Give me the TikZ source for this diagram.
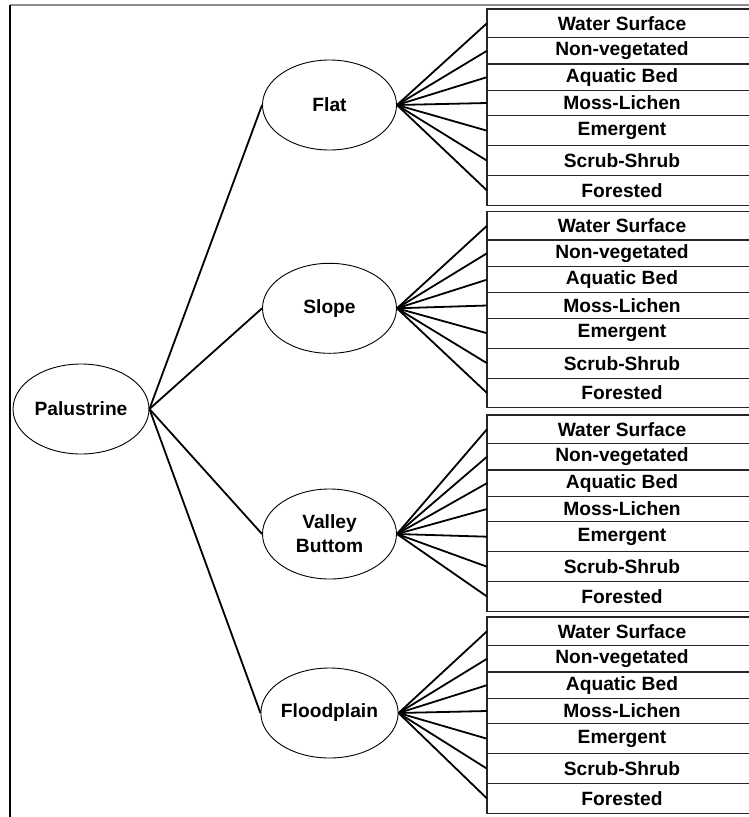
\documentclass[tikz,border=0pt]{standalone}
\usepackage{fontspec}
\setmainfont{Liberation Sans}
\usetikzlibrary{shapes.geometric}

\tikzset{
  lbl/.style={font=\fontsize{19.2}{24}\selectfont\bfseries, align=center},
  oval/.style={ellipse, draw=black, line width=0.9pt, inner sep=0pt,
    minimum width=134pt, minimum height=90pt, lbl},
  cell/.style={rectangle, draw=black!85, line width=1.3pt, anchor=north west,
    minimum width=270pt, inner sep=0pt, outer sep=0pt, lbl},
  fan/.style={line width=1.8pt, black},
  frame/.style={line width=1.2pt},
}

\begin{document}
\begin{tikzpicture}[x=1pt, y=-1pt]
  \useasboundingbox (0,0) rectangle (749,817);

  % outer frame: grey top rule, black left rule
  \draw[frame, black!45] (10,5) -- (760,5);
  \draw[frame, black] (10,5) -- (10,817);

  % root and landform classes
  \node[oval, minimum width=136pt] (pal) at (81,409) {Palustrine};
  \node[oval] (flat)   at (329.5,105)   {Flat};
  \node[oval] (slope)  at (329.5,308.3) {Slope};
  \node[oval] (valley) at (329.5,534)   {Valley\\Buttom};
  \node[oval] (flood)  at (329.5,713)   {Floodplain};

  \foreach \c in {flat, slope, valley, flood}
    \draw[fan] (pal.east) -- (\c.west);

  % vegetation classes for every landform
  \foreach \g/\top/\parent in {1/9/flat, 2/211.5/slope, 3/415/valley, 4/617/flood} {
    \foreach \r/\off/\h/\txt in {
        1/0/28.5/Water Surface,
        2/28.5/26.5/Non-vegetated,
        3/55/26.3/Aquatic Bed,
        4/81.3/25.4/Moss-Lichen,
        5/106.7/30/Emergent,
        6/136.7/30/Scrub-Shrub,
        7/166.7/29.6/Forested} {
      \node[cell, minimum height=\h pt] (g\g r\r) at (487,{\top+\off}) {\txt};
      \draw[fan] (\parent.east) -- (g\g r\r.west);
    }
  }
\end{tikzpicture}
\end{document}
